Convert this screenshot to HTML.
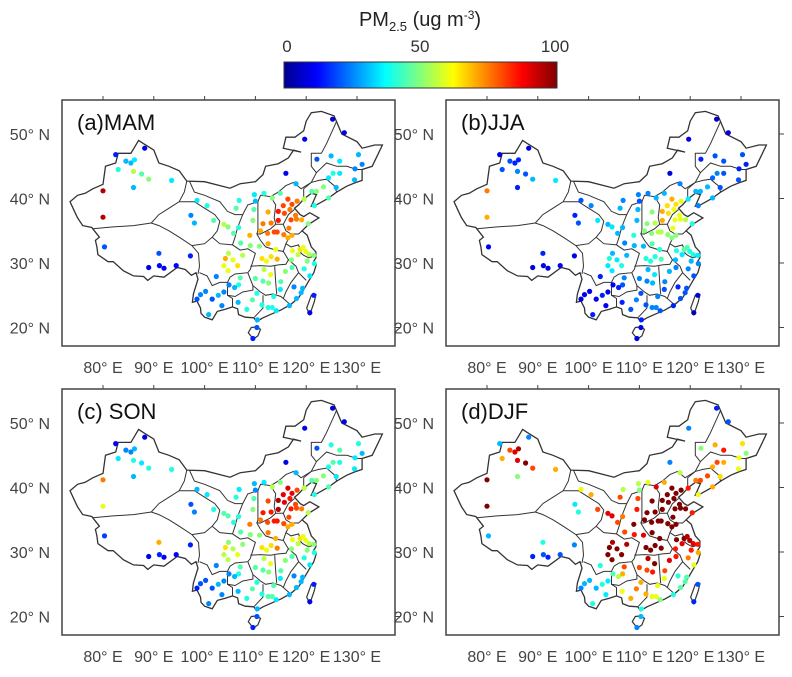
<!DOCTYPE html>
<html><head><meta charset="utf-8"><style>
body{margin:0;background:#fff;}
svg{display:block;font-family:"Liberation Sans",Arial,sans-serif;}
</style></head><body>
<svg id="fig" width="792" height="677" viewBox="0 0 792 677" xmlns="http://www.w3.org/2000/svg">
<defs>
<linearGradient id="jet" x1="0" x2="1" y1="0" y2="0">
<stop offset="0" stop-color="#00008f"/><stop offset="0.12" stop-color="#0000ff"/><stop offset="0.37" stop-color="#00ffff"/><stop offset="0.62" stop-color="#ffff00"/><stop offset="0.87" stop-color="#ff0000"/><stop offset="1" stop-color="#800000"/>
</linearGradient>
</defs>
<g>
<text x="420" y="26" font-size="20" text-anchor="middle" fill="#222">PM<tspan font-size="13" dy="5">2.5</tspan><tspan dy="-5"> (ug m</tspan><tspan font-size="12" dy="-7">-3</tspan><tspan dy="7">)</tspan></text>
<rect x="284" y="62" width="273" height="26" fill="url(#jet)" stroke="#333" stroke-width="1"/>
<text x="287" y="52" font-size="17" text-anchor="middle" fill="#333">0</text>
<text x="420" y="52" font-size="17" text-anchor="middle" fill="#333">50</text>
<text x="555" y="52" font-size="17" text-anchor="middle" fill="#333">100</text>
</g>
<g id="panels"></g>
</svg>
<script>
const seasons=["(a)MAM","(b)JJA","(c) SON","(d)DJF"];
const lonTicks=[80,90,100,110,120,130];
const latTicks=[50,40,30,20];
const lons=[80,80,80.3,82.5,84.5,85.5,86.2,87.6,88.2,86,89,93.5,86,83,
91.1,89,91,94.4,92,97.2,
101.8,98,97.3,
103.8,100.5,98.5,104.6,105.7,106.7,
106.2,
111.7,109.8,110,106.8,116,119.7,122.1,118,
126.6,124.9,129.6,130.3,127.5,125.2,131,
125.3,126.6,129.5,124.4,125.9,
123.4,121.6,121.1,124.4,122,119.6,
116.4,117.2,114.5,115.5,114.5,118.2,115.7,116.8,114.9,
112.5,113.3,111.5,113.1,111,
117,120.4,118.1,116.6,119.1,117.9,
113.7,114.3,112.4,114,112.5,115.6,
108.9,109.5,107.1,109,109.7,
118.8,120.6,121.5,119.4,117.2,119.9,
117.3,116.4,118.4,117.1,
120.2,121.6,120.7,119.6,
119.3,118.1,117.6,119,
115.9,114.9,117.2,115,
114.3,111.3,112.2,110.8,113.1,
113,111.7,112.6,110,111.5,
113.3,114.1,116.7,110.4,113.6,112.5,
108.3,110.3,109.4,106.6,111.3,
110.3,109.5,
104.1,106.5,104.6,105.6,107.5,102.3,104.7,103.8,
106.7,104.8,107,105.9,
102.7,100.2,103.8,99.2,100.8,103.4,101.5,98.5,
121.5,120.7];
const lats=[41.2,37.1,32.5,46.8,45.8,45.5,46,43.8,47.8,44.2,43,42.8,41.7,44.5,
29.6,29.3,31.5,29.6,29.2,31.1,
36.6,36.2,37.4,
36,38.9,39.7,35.6,34.6,35.5,
38.5,
40.8,40.6,39.6,39.7,43.9,49.2,46.1,42.3,
45.8,46.6,44.6,46.8,50.2,52.3,45.3,
43.9,43.9,42.9,43.2,41.7,
41.8,38.9,41.1,40.1,41.1,39.9,
39.9,39.1,38,38.9,36.6,39.6,37.7,38.3,40.8,
37.9,40.1,36.1,36.2,35,
36.7,36.1,36.8,35.4,36.7,37.4,
34.8,34.8,34.6,32.1,33,34.4,
34.3,36.6,33.1,32.7,38.3,
32.1,31.3,31.2,32.4,34.3,31.8,
31.9,33.9,31.3,30.5,
30.3,29.9,28,29.1,
26.1,24.5,26.3,25.4,
28.7,25.9,29.3,27.1,
30.6,30.7,30.3,32.6,31,
28.2,29,26.9,27.6,27.2,
23.1,22.6,23.4,21.2,24.8,23.1,
22.8,25.3,24.3,23.9,23.5,
20,18.3,
30.7,29.6,28.8,30.5,31.2,27.9,31.5,29.6,
26.6,26.6,27.7,26.2,
25,25.6,25.5,25.1,22,23.4,24.4,24.4,
25,22.3];
const valMAM=[95,95,20,15,30,30,35,45,10,55,50,35,30,40, 12,10,20,12,10,15, 45,30,25, 55,40,35,50,45,40, 45, 40,35,30,40,10,10,20,30, 35,30,25,30,10,8,25, 40,35,30,35,30, 50,40,45,45,50,55, 80,80,85,80,85,75,80,75,45, 70,50,75,75,70, 80,50,75,75,70,75, 80,80,75,60,70,75, 70,50,45,50,45, 65,55,50,60,70,60, 60,70,55,50, 50,40,35,40, 30,30,25,30, 50,35,45,45, 70,65,60,50,65, 60,55,50,45,45, 40,35,30,30,40,40, 40,40,45,30,40, 20,15, 70,65,60,60,55,25,55,60, 40,25,45,30, 30,25,25,25,30,25,20,20, 15,10];
const valJJA=[75,70,12,10,20,15,15,20,8,25,30,35,15,20, 10,8,15,10,8,10, 35,20,15, 30,25,20,35,30,30, 30, 25,25,20,25,8,8,15,25, 20,20,15,20,8,6,15, 25,20,20,22,20, 30,25,30,30,30,35, 70,65,70,65,70,60,65,60,30, 50,30,50,55,50, 60,40,60,60,55,60, 55,55,50,40,45,50, 40,30,25,30,30, 45,40,35,45,50,40, 40,50,35,30, 30,25,20,25, 20,20,15,20, 30,20,25,25, 45,40,40,30,40, 35,30,30,25,25, 25,20,15,15,25,25, 20,20,25,15,20, 10,8, 40,40,35,35,30,15,30,35, 20,12,25,15, 15,10,10,10,15,10,10,8, 8,5];
const valSON=[75,60,18,12,25,25,30,35,10,40,40,40,30,35, 15,10,70,12,10,15, 40,25,20, 45,35,30,45,40,40, 40, 35,30,25,35,10,10,20,30, 45,40,35,40,10,8,30, 45,40,35,40,35, 50,40,45,45,50,55, 90,90,95,90,95,80,90,85,50, 80,55,85,85,75, 85,55,80,80,75,80, 85,85,80,70,75,80, 75,50,45,50,45, 65,55,50,60,70,60, 60,70,55,50, 50,40,35,40, 30,30,25,30, 50,35,45,45, 75,65,60,50,65, 60,55,50,45,45, 45,35,30,30,45,45, 40,40,45,30,40, 20,15, 65,60,55,55,50,25,50,55, 40,25,45,30, 30,20,25,20,25,25,20,15, 15,10];
const valDJF=[100,100,30,30,80,90,95,100,25,90,80,70,50,70, 20,15,40,20,15,25, 80,40,35, 90,70,60,90,80,75, 80, 60,55,50,55,25,25,50,55, 85,70,60,65,20,15,50, 80,70,60,70,65, 80,60,75,70,80,85, 100,100,100,100,100,100,100,100,70, 100,90,100,100,100, 100,85,100,100,100,100, 100,100,100,100,100,100, 100,85,80,85,80, 100,90,85,95,100,95, 100,100,90,85, 85,70,60,75, 45,45,40,45, 90,60,85,80, 100,100,100,90,100, 100,95,85,80,80, 60,50,40,40,60,60, 70,70,75,60,70, 30,25, 100,100,100,100,95,40,95,100, 70,45,80,55, 40,30,35,30,40,35,30,25, 20,15];
const seasonVals=[valMAM,valJJA,valSON,valDJF];

const outline=[[73.5,39.5],[75,40.5],[76.5,40.8],[78,41.5],[80,42.2],[80.5,45],[82.5,45.5],[83,47],[85.5,47],[87,49],[88,48.5],[90,47.5],[91,45.5],[93,45],[95,44.3],[96.5,42.7],[100,42.6],[105,41.6],[107,42.3],[110,42.6],[111.5,43.7],[112,45],[114.5,45.4],[116.5,46.3],[117.5,47.5],[119,47.2],[115.5,47.8],[116,49.5],[117.8,49.5],[119.5,50.5],[120,52],[121,53.3],[123,53.5],[125.5,52.8],[127,50],[130,48.8],[131,47.8],[133.5,48.3],[135,48.3],[133,45],[131,44.5],[131,42.8],[129.5,42.4],[128,41.9],[126,41],[124.3,40],[122,39],[121,38.8],[122,40.6],[121,40.8],[119.5,39.9],[118.5,39],[117.7,38.5],[118.8,37.5],[119.5,37.2],[120.7,37.8],[122.5,37],[120.5,36],[119.2,35],[120.2,34.3],[121,32.5],[121.9,31.7],[121.9,30.8],[121.5,30.3],[122,29.8],[121.5,28.5],[120.5,27.2],[119.6,26],[118.5,24.6],[117,23.6],[115,22.7],[113.5,22.2],[111.5,21.5],[110.2,20.9],[109.7,21.5],[108,21.6],[106.7,22],[106.5,22.9],[105.5,23.2],[104,22.8],[102.5,22.5],[101.5,21.2],[100,21.6],[99.3,22.2],[99.2,23],[98.5,24.1],[97.6,23.9],[97.8,25.2],[98.7,27.5],[98.3,28.5],[97.4,28.1],[96.2,29],[94.6,29.3],[92,27.8],[90,28],[88.8,27.3],[88,27.9],[86,28],[84,28.8],[82,30.2],[81,30.2],[79,31.3],[78.8,32.5],[78.5,33.5],[79.3,34],[78,35.3],[77.8,35.5],[76,35.8],[75,37],[74.5,37.8],[73.5,39.5]];
const hainan=[[108.6,19.2],[109.6,18.2],[110.5,18.7],[111,19.7],[110.3,20.1],[109.2,20],[108.6,19.2]];
const taiwan=[[120.1,23],[120.7,22],[121.6,24],[121.9,25.1],[121,25],[120.1,23]];
const borders=[
[[78,35.3],[82,35.6],[86,35.8],[89.5,36.2],[91,35.8],[93,35],[95,34],[97.5,32.7],[98.8,31.5],[99,29.5],[98.7,28.3]],
[[89.5,36.2],[91,37.5],[93,38.5],[95,39.5],[96,41],[96.5,42.7]],
[[95,39.5],[98,39.5],[100,38.5],[102,37.5],[103,36.5],[102.5,35],[101.5,34],[100,33],[97.5,32.7]],
[[101.5,34],[103,33],[105.5,32.8],[107,32],[108.5,32.2],[110,31.5],[109,29],[108.5,28.5],[106,28.3],[105,27.8],[104.5,27],[103,27],[101.5,26.5],[100.5,28],[99,28.5]],
[[97,42.7],[98,41],[100,40.5],[103,39.5],[104.5,38],[106,37.5],[107.5,37.5],[108.5,39],[110.5,39.5],[111,40.5],[113,40.3],[114.5,41],[116,42],[117.5,42.5],[119,41.5],[121,42.5],[122,44],[121,45],[121,47],[123,47],[124,48.5],[126,52]],
[[110.5,39.5],[110.5,37],[110.5,35],[110.3,34.5]],
[[105.5,32.8],[106,34],[106.5,35.5],[107.5,37.5]],
[[113,40.3],[114,39],[113.7,37],[114,36],[113,35.3],[111,34.5],[110.3,34.5],[111,33.5],[112,32.5],[114,32],[115.5,31.8],[116,33],[117,34.5],[118.5,34.5],[119.2,35]],
[[114,36],[115.5,36],[116.5,37.5],[117.7,38.3]],
[[115.5,36],[116,35],[117,34.5]],
[[109,29.5],[111,29.6],[113,29.5],[114.5,29.7],[116,29.8],[116.5,30.5],[115.5,31.8]],
[[116,33],[117,32.5],[118.5,32.8],[119,31.5],[119.5,31.2],[120.5,30.8],[121.2,31]],
[[116.5,30.5],[118,29.5],[118.5,28.5],[120,27.3]],
[[118.5,28.5],[117,27],[116,25.5],[115.5,24.5],[116.8,23.6]],
[[113.8,29.5],[114,27],[114.2,25.2]],
[[108.5,28.5],[109.5,26.5],[111,25.5],[112,25],[113.5,25.2],[115,24.8],[115.5,24.5]],
[[111.5,25],[111.5,23],[109.8,21.6]],
[[104.5,27],[104.5,25],[106,24.8],[107.5,25.5],[109.5,25.8],[109.5,26.5]],
[[104.5,25],[105.5,24.5],[105.5,23.2]],
[[119.5,40],[119.5,41.5],[121,42.5],[122.5,42.8],[124,43],[125.5,42],[126,41]],
[[122,44],[124,45.5],[126,45],[128,45],[130,44.5],[131,44.5]]
];

function jet(v){
  let t=Math.max(0,Math.min(1,v/100));
  const st=[[0,[0,0,143]],[0.12,[0,0,255]],[0.37,[0,255,255]],[0.62,[255,255,0]],[0.87,[255,0,0]],[1,[128,0,0]]];
  for(let i=1;i<st.length;i++){ if(t<=st[i][0]){ const a=st[i-1],b=st[i],f=(t-a[0])/(b[0]-a[0]);
    return 'rgb('+a[1].map((c,k)=>Math.round(c+(b[1][k]-c)*f)).join(',')+')'; } }
  return 'rgb(128,0,0)';
}
const NS='http://www.w3.org/2000/svg';
const root=document.getElementById('panels');
function mk(tag,attrs,parent){const e=document.createElementNS(NS,tag);for(const k in attrs)e.setAttribute(k,attrs[k]);parent.appendChild(e);return e;}
const names=['mam','jja','son','djf'];
for(let p=0;p<4;p++){
  const dx=(p%2)*384, dy=Math.floor(p/2)*289;
  const left=62+dx, top=100+dy, right=395+dx, bottom=346+dy;
  const xs=lon=>103+dx+(lon-80)*5.08;
  const ys=lat=>134+dy+(50-lat)*6.45;
  const g=mk('g',{},root);
  
  
  const cid='clip'+p;
  const cp=mk('clipPath',{id:cid},g);mk('rect',{x:left,y:top,width:right-left,height:bottom-top},cp);
  const box=mk('rect',{x:left,y:top,width:right-left,height:bottom-top,fill:'#fff',stroke:'#444','stroke-width':1.5},g);
  
  
  const mg=mk('g',{'clip-path':'url(#'+cid+')'},g);
  const pts=a=>a.map(q=>xs(q[0]).toFixed(1)+','+ys(q[1]).toFixed(1)).join(' ');
  const ol=mk('polygon',{points:pts(outline),fill:'none',stroke:'#333','stroke-width':1.3},mg);
  
  
  [hainan,taiwan].forEach(isl=>{const e=mk('polygon',{points:pts(isl),fill:'none',stroke:'#333','stroke-width':1.2},mg);
    
    });
  borders.forEach(b=>{const e=mk('polyline',{points:pts(b),fill:'none',stroke:'#333','stroke-width':1},mg);
    
    });
  const vals=seasonVals[p];
  for(let i=0;i<lons.length;i++){
    const c=mk('circle',{cx:xs(lons[i]).toFixed(1),cy:ys(lats[i]).toFixed(1),r:2.6,fill:jet(vals[i])},mg);
    
    
  }
  const t=mk('text',{x:left+15,y:top+30,'font-size':22,fill:'#111'},g);t.textContent=seasons[p];
  
  
  lonTicks.forEach(l=>{
    const x=xs(l);
    mk('line',{x1:x,x2:x,y1:top,y2:top-4,stroke:'#444'},g);
    const tl=mk('text',{x:x,y:bottom+27,'font-size':16,'text-anchor':'middle',fill:'#444'},g);tl.textContent=l+'° E';
    
    
  });
  latTicks.forEach(l=>{
    const y=ys(l);
    mk('line',{x1:right,x2:right+5,y1:y,y2:y,stroke:'#444'},g);
    const tl=mk('text',{x:left-12,y:y+6,'font-size':16,'text-anchor':'end',fill:'#444'},g);tl.textContent=l+'° N';
    
    
  });
}
</script>
</body></html>
